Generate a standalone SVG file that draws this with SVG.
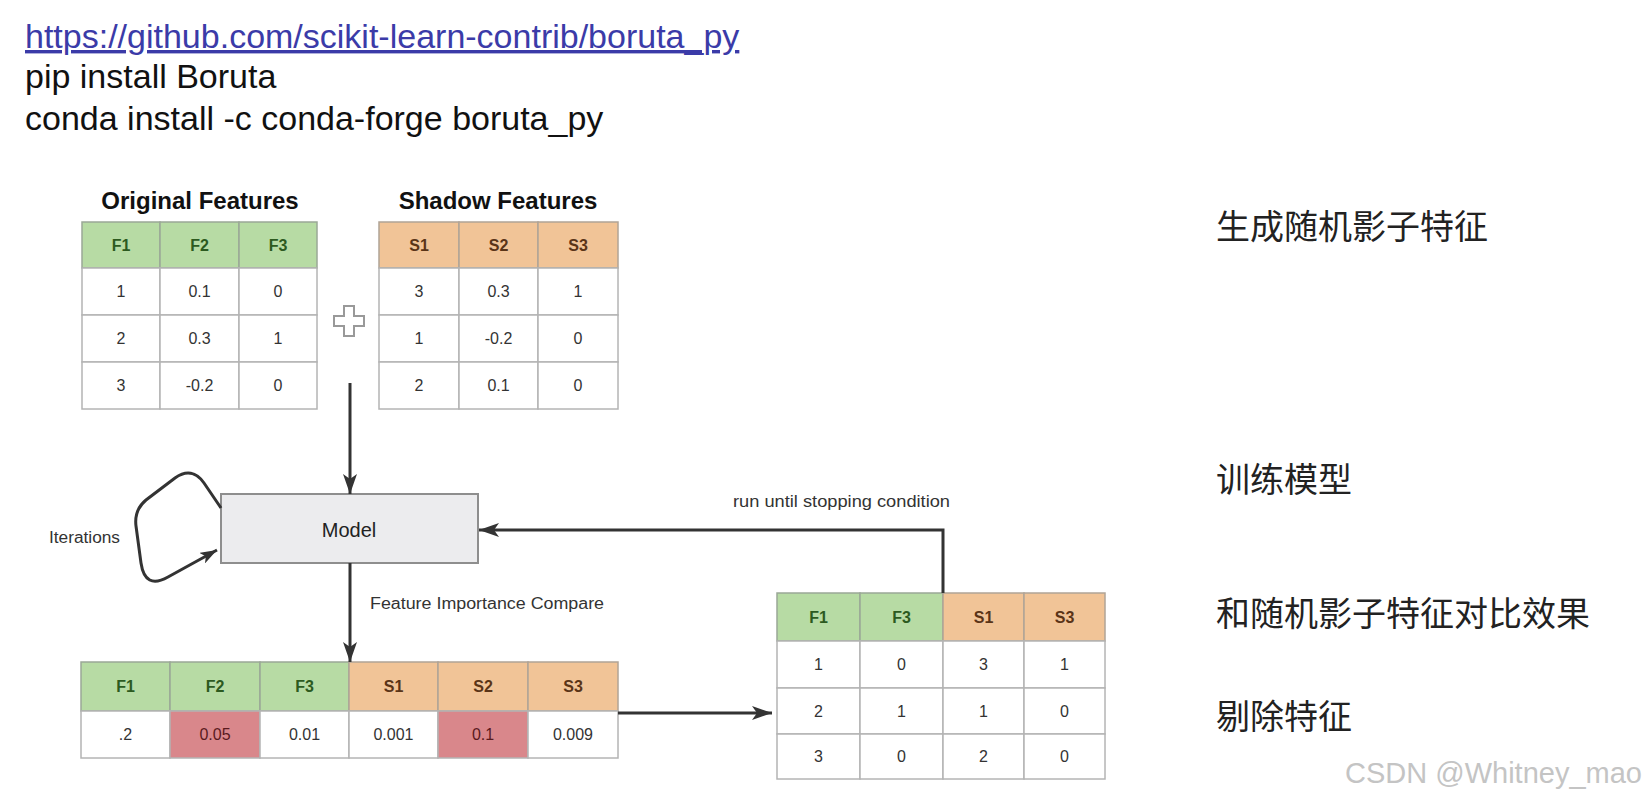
<svg xmlns="http://www.w3.org/2000/svg" width="1647" height="797" viewBox="0 0 1647 797">
<style>
.bg{fill:#ffffff}
.hdr{font-family:"Liberation Sans",Arial,sans-serif;font-size:34px;fill:#111}
.url{fill:#3b3ba8;text-decoration:underline}
.ttl{font-family:"Liberation Sans",Arial,sans-serif;font-size:24px;font-weight:bold;fill:#111;text-anchor:middle}
.g{fill:#b7dba4;stroke:#9aa897;stroke-width:1.5}
.o{fill:#f1c497;stroke:#b0a496;stroke-width:1.5}
.w{fill:#ffffff;stroke:#b4b4b4;stroke-width:1.5}
.r{fill:#d9878b;stroke:#b4b4b4;stroke-width:1.5}
.ct{font-family:"Liberation Sans",Arial,sans-serif;font-size:16px;fill:#333;text-anchor:middle}
.cg{font-family:"Liberation Sans",Arial,sans-serif;font-size:16px;font-weight:bold;fill:#2c5a1f;text-anchor:middle}
.co{font-family:"Liberation Sans",Arial,sans-serif;font-size:16px;font-weight:bold;fill:#5a3417;text-anchor:middle}
.cr{font-family:"Liberation Sans",Arial,sans-serif;font-size:16px;fill:#5a1a1e;text-anchor:middle}
.lbl{font-family:"Liberation Sans",Arial,sans-serif;font-size:16px;fill:#333}
.cjk{font-family:"Liberation Sans","Noto Sans CJK SC",sans-serif;font-size:34px;fill:#222}
.edge{fill:none;stroke:#333;stroke-width:3}
</style>
<defs>
<marker id="arr" viewBox="0 0 20 14" refX="20" refY="7" markerWidth="20" markerHeight="14" markerUnits="userSpaceOnUse" orient="auto">
<path d="M0,0 L20,7 L0,14 L5,7 z" fill="#333"/>
</marker>
<marker id="arrs" viewBox="0 0 20 14" refX="20" refY="7" markerWidth="17" markerHeight="12" markerUnits="userSpaceOnUse" orient="auto">
<path d="M0,0 L20,7 L0,14 L5,7 z" fill="#333"/>
</marker>
</defs>
<rect class="bg" x="0" y="0" width="1647" height="797"/>

<g id="header-text">
<text class="hdr url" x="25" y="48">https://github.com/scikit-learn-contrib/boruta_py</text>
<text class="hdr" x="25" y="88">pip install Boruta</text>
<text class="hdr" x="25" y="130">conda install -c conda-forge boruta_py</text>
</g>

<g id="original-features">
<text class="ttl" x="200" y="209">Original Features</text>
<rect class="g" x="82" y="222" width="78" height="46"/>
<rect class="g" x="160" y="222" width="79" height="46"/>
<rect class="g" x="239" y="222" width="78" height="46"/>
<rect class="w" x="82" y="268" width="78" height="47"/>
<rect class="w" x="160" y="268" width="79" height="47"/>
<rect class="w" x="239" y="268" width="78" height="47"/>
<rect class="w" x="82" y="315" width="78" height="47"/>
<rect class="w" x="160" y="315" width="79" height="47"/>
<rect class="w" x="239" y="315" width="78" height="47"/>
<rect class="w" x="82" y="362" width="78" height="47"/>
<rect class="w" x="160" y="362" width="79" height="47"/>
<rect class="w" x="239" y="362" width="78" height="47"/>
<text class="cg" x="121" y="251">F1</text>
<text class="cg" x="199.5" y="251">F2</text>
<text class="cg" x="278" y="251">F3</text>
<text class="ct" x="121" y="297">1</text>
<text class="ct" x="199.5" y="297">0.1</text>
<text class="ct" x="278" y="297">0</text>
<text class="ct" x="121" y="344">2</text>
<text class="ct" x="199.5" y="344">0.3</text>
<text class="ct" x="278" y="344">1</text>
<text class="ct" x="121" y="391">3</text>
<text class="ct" x="199.5" y="391">-0.2</text>
<text class="ct" x="278" y="391">0</text>
</g>

<g id="plus">
<polygon points="344,306 354,306 354,316 364,316 364,326 354,326 354,336 344,336 344,326 334,326 334,316 344,316" fill="#fff" stroke="#999" stroke-width="2"/>
</g>

<g id="shadow-features">
<text class="ttl" x="498" y="209">Shadow Features</text>
<rect class="o" x="379" y="222" width="80" height="46"/>
<rect class="o" x="459" y="222" width="79" height="46"/>
<rect class="o" x="538" y="222" width="80" height="46"/>
<rect class="w" x="379" y="268" width="80" height="47"/>
<rect class="w" x="459" y="268" width="79" height="47"/>
<rect class="w" x="538" y="268" width="80" height="47"/>
<rect class="w" x="379" y="315" width="80" height="47"/>
<rect class="w" x="459" y="315" width="79" height="47"/>
<rect class="w" x="538" y="315" width="80" height="47"/>
<rect class="w" x="379" y="362" width="80" height="47"/>
<rect class="w" x="459" y="362" width="79" height="47"/>
<rect class="w" x="538" y="362" width="80" height="47"/>
<text class="co" x="419" y="251">S1</text>
<text class="co" x="498.5" y="251">S2</text>
<text class="co" x="578" y="251">S3</text>
<text class="ct" x="419" y="297">3</text>
<text class="ct" x="498.5" y="297">0.3</text>
<text class="ct" x="578" y="297">1</text>
<text class="ct" x="419" y="344">1</text>
<text class="ct" x="498.5" y="344">-0.2</text>
<text class="ct" x="578" y="344">0</text>
<text class="ct" x="419" y="391">2</text>
<text class="ct" x="498.5" y="391">0.1</text>
<text class="ct" x="578" y="391">0</text>
</g>

<g id="model">
<rect x="221" y="494" width="257" height="69" fill="#ececee" stroke="#8e8e8e" stroke-width="2"/>
<text x="349" y="537" font-family="Liberation Sans, Arial, sans-serif" font-size="20" fill="#222" text-anchor="middle">Model</text>
</g>

<g id="importance-table">
<rect class="g" x="81" y="662" width="89" height="49"/>
<rect class="g" x="170" y="662" width="90" height="49"/>
<rect class="g" x="260" y="662" width="89" height="49"/>
<rect class="o" x="349" y="662" width="89" height="49"/>
<rect class="o" x="438" y="662" width="90" height="49"/>
<rect class="o" x="528" y="662" width="90" height="49"/>
<rect class="w" x="81" y="711" width="89" height="47"/>
<rect class="r" x="170" y="711" width="90" height="47"/>
<rect class="w" x="260" y="711" width="89" height="47"/>
<rect class="w" x="349" y="711" width="89" height="47"/>
<rect class="r" x="438" y="711" width="90" height="47"/>
<rect class="w" x="528" y="711" width="90" height="47"/>
<text class="cg" x="125.5" y="692">F1</text>
<text class="cg" x="215" y="692">F2</text>
<text class="cg" x="304.5" y="692">F3</text>
<text class="co" x="393.5" y="692">S1</text>
<text class="co" x="483" y="692">S2</text>
<text class="co" x="573" y="692">S3</text>
<text class="ct" x="125.5" y="740">.2</text>
<text class="cr" x="215" y="740">0.05</text>
<text class="ct" x="304.5" y="740">0.01</text>
<text class="ct" x="393.5" y="740">0.001</text>
<text class="cr" x="483" y="740">0.1</text>
<text class="ct" x="573" y="740">0.009</text>
</g>

<g id="result-table">
<rect class="g" x="777" y="593" width="83" height="48"/>
<rect class="g" x="860" y="593" width="83" height="48"/>
<rect class="o" x="943" y="593" width="81" height="48"/>
<rect class="o" x="1024" y="593" width="81" height="48"/>
<rect class="w" x="777" y="641" width="83" height="47"/>
<rect class="w" x="860" y="641" width="83" height="47"/>
<rect class="w" x="943" y="641" width="81" height="47"/>
<rect class="w" x="1024" y="641" width="81" height="47"/>
<rect class="w" x="777" y="688" width="83" height="46"/>
<rect class="w" x="860" y="688" width="83" height="46"/>
<rect class="w" x="943" y="688" width="81" height="46"/>
<rect class="w" x="1024" y="688" width="81" height="46"/>
<rect class="w" x="777" y="734" width="83" height="45"/>
<rect class="w" x="860" y="734" width="83" height="45"/>
<rect class="w" x="943" y="734" width="81" height="45"/>
<rect class="w" x="1024" y="734" width="81" height="45"/>
<text class="cg" x="818.5" y="623">F1</text>
<text class="cg" x="901.5" y="623">F3</text>
<text class="co" x="983.5" y="623">S1</text>
<text class="co" x="1064.5" y="623">S3</text>
<text class="ct" x="818.5" y="670">1</text>
<text class="ct" x="901.5" y="670">0</text>
<text class="ct" x="983.5" y="670">3</text>
<text class="ct" x="1064.5" y="670">1</text>
<text class="ct" x="818.5" y="717">2</text>
<text class="ct" x="901.5" y="717">1</text>
<text class="ct" x="983.5" y="717">1</text>
<text class="ct" x="1064.5" y="717">0</text>
<text class="ct" x="818.5" y="762">3</text>
<text class="ct" x="901.5" y="762">0</text>
<text class="ct" x="983.5" y="762">2</text>
<text class="ct" x="1064.5" y="762">0</text>
</g>

<g id="connectors">
<path class="edge" d="M350 383 L350 494" marker-end="url(#arr)"/>
<path class="edge" d="M350 563 L350 662" marker-end="url(#arr)"/>
<path class="edge" d="M618 713 L772 713" marker-end="url(#arr)"/>
<path class="edge" d="M943 593 L943 530 L479 530" marker-end="url(#arr)"/>
<path class="edge" d="M221 508 L204 483 Q192 466 175 478 L146 500 Q134 510 136 526 L141 563 Q145 590 168 577 L217 550" marker-end="url(#arrs)"/>
<text class="lbl" x="49" y="543" textLength="71" lengthAdjust="spacingAndGlyphs">Iterations</text>
<text class="lbl" x="370" y="609" textLength="234" lengthAdjust="spacingAndGlyphs">Feature Importance Compare</text>
<text class="lbl" x="733" y="507" textLength="217" lengthAdjust="spacingAndGlyphs">run until stopping condition</text>
</g>

<g id="steps">
<text class="cjk" x="1216" y="239">生成随机影子特征</text>
<text class="cjk" x="1216" y="492">训练模型</text>
<text class="cjk" x="1216" y="626">和随机影子特征对比效果</text>
<text class="cjk" x="1216" y="729">剔除特征</text>
</g>

<g id="watermark">
<text x="1345" y="783" font-family="Liberation Sans, Arial, sans-serif" font-size="29" fill="#c4c4c4">CSDN @Whitney_mao</text>
</g>
</svg>
